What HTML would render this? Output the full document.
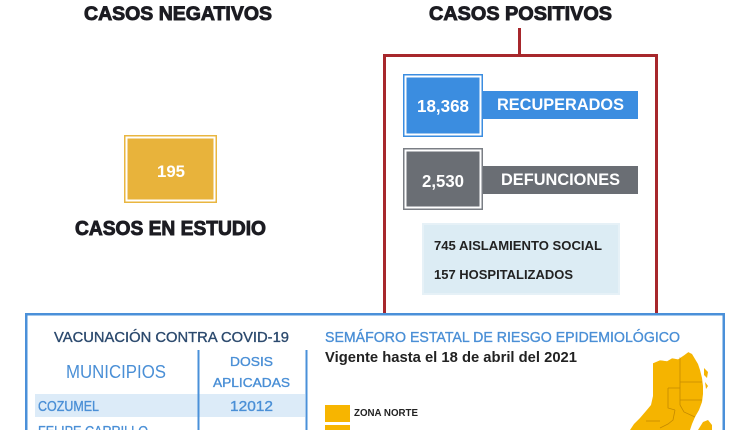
<!DOCTYPE html>
<html>
<head>
<meta charset="utf-8">
<style>
  html,body{margin:0;padding:0;background:#fff;}
  body{width:750px;height:430px;overflow:hidden;}
  svg{display:block;}
  .h{font-family:"Liberation Sans",Arial,sans-serif;font-weight:bold;fill:#1c1c22;stroke:#1c1c22;stroke-width:0.9px;}
  .w{font-family:"Liberation Sans",Arial,sans-serif;font-weight:bold;fill:#fff;}
  .d{font-family:"Liberation Sans",Arial,sans-serif;font-weight:bold;fill:#222;}
  .n{font-family:"Liberation Sans","DejaVu Sans",sans-serif;}
  .sb{stroke-width:0.35px;}
</style>
</head>
<body>
<svg width="750" height="430" viewBox="0 0 750 430" xmlns="http://www.w3.org/2000/svg">
  <rect x="0" y="0" width="750" height="430" fill="#fff"/>

  <!-- headings -->
  <text class="h" x="84" y="20" font-size="19.5" textLength="188" lengthAdjust="spacingAndGlyphs">CASOS NEGATIVOS</text>
  <text class="h" x="429" y="20" font-size="19.5" textLength="183" lengthAdjust="spacingAndGlyphs">CASOS POSITIVOS</text>

  <!-- yellow box -->
  <rect x="124.75" y="135.75" width="91.5" height="66.5" fill="#fff" stroke="#e9b640" stroke-width="1.5"/>
  <rect x="127.5" y="138.5" width="86" height="61" fill="#e8b33b"/>
  <text class="w" x="157" y="177" font-size="17" textLength="28" lengthAdjust="spacingAndGlyphs">195</text>

  <text class="h" x="75" y="235" font-size="20" textLength="191" lengthAdjust="spacingAndGlyphs">CASOS EN ESTUDIO</text>

  <!-- red bracket -->
  <line x1="519.5" y1="28" x2="519.5" y2="56" stroke="#a7272c" stroke-width="3"/>
  <path d="M384.5 320 V55.5 H656.5 V320" fill="none" stroke="#a7272c" stroke-width="3"/>

  <!-- recuperados -->
  <rect x="483" y="91" width="155" height="28" fill="#3b8de0"/>
  <rect x="403.75" y="74.75" width="78.5" height="61.5" fill="#fff" stroke="#3b8de0" stroke-width="1.5"/>
  <rect x="406.5" y="77.5" width="73" height="56" fill="#3b8de0"/>
  <text class="w" x="417" y="112" font-size="17.5" textLength="52" lengthAdjust="spacingAndGlyphs">18,368</text>
  <text class="w" x="497" y="110" font-size="16.5" textLength="127" lengthAdjust="spacingAndGlyphs">RECUPERADOS</text>

  <!-- defunciones -->
  <rect x="483" y="166" width="155" height="28" fill="#6a6e74"/>
  <rect x="403.75" y="148.75" width="78.5" height="60.5" fill="#fff" stroke="#7a7e84" stroke-width="1.5"/>
  <rect x="406.5" y="151.5" width="73" height="55" fill="#6a6e74"/>
  <text class="w" x="422" y="187" font-size="17.5" textLength="42" lengthAdjust="spacingAndGlyphs">2,530</text>
  <text class="w" x="501" y="185" font-size="16.5" textLength="119" lengthAdjust="spacingAndGlyphs">DEFUNCIONES</text>

  <!-- light blue info box -->
  <rect x="423" y="224" width="196" height="70" fill="#dcecf4" stroke="#e6f1f7" stroke-width="2"/>
  <text class="d" x="434" y="250" font-size="12.5" textLength="168" lengthAdjust="spacingAndGlyphs">745  AISLAMIENTO SOCIAL</text>
  <text class="d" x="434" y="279" font-size="12.5" textLength="139" lengthAdjust="spacingAndGlyphs">157  HOSPITALIZADOS</text>

  <!-- bottom frame -->
  <rect x="26.25" y="314.25" width="697.5" height="130" fill="#fff" stroke="#4a90d9" stroke-width="2.5"/>

  <text class="n sb" x="54" y="342" font-size="15" fill="#2c4a6e" stroke="#2c4a6e" textLength="235" lengthAdjust="spacingAndGlyphs">VACUNACIÓN CONTRA COVID-19</text>
  <text class="n" x="66" y="378" font-size="18" fill="#4a8fd6" textLength="100" lengthAdjust="spacingAndGlyphs">MUNICIPIOS</text>
  <text class="n sb" x="230" y="366" font-size="12.5" fill="#4a8fd6" stroke="#4a8fd6" textLength="43" lengthAdjust="spacingAndGlyphs">DOSIS</text>
  <text class="n sb" x="213" y="387" font-size="12.5" fill="#4a8fd6" stroke="#4a8fd6" textLength="77" lengthAdjust="spacingAndGlyphs">APLICADAS</text>

  <rect x="35" y="394" width="270" height="23" fill="#dcebf8"/>
  <line x1="198.5" y1="350" x2="198.5" y2="430" stroke="#4a90d9" stroke-width="2"/>
  <line x1="306.5" y1="350" x2="306.5" y2="430" stroke="#4a90d9" stroke-width="2"/>
  <text class="n sb" x="38" y="411" font-size="14.5" fill="#4a8fd6" stroke="#4a8fd6" textLength="61" lengthAdjust="spacingAndGlyphs">COZUMEL</text>
  <text class="n sb" x="230" y="411" font-size="14.5" fill="#4a8fd6" stroke="#4a8fd6" textLength="43" lengthAdjust="spacingAndGlyphs">12012</text>
  <text class="n sb" x="38" y="436" font-size="14.5" fill="#4a8fd6" stroke="#4a8fd6" textLength="110" lengthAdjust="spacingAndGlyphs">FELIPE CARRILLO</text>

  <text class="n sb" x="325" y="342" font-size="15" fill="#4a8fd6" stroke="#4a8fd6" textLength="355" lengthAdjust="spacingAndGlyphs">SEMÁFORO ESTATAL DE RIESGO EPIDEMIOLÓGICO</text>
  <text class="n" x="325" y="362" font-size="15" fill="#222" font-weight="bold" textLength="252" lengthAdjust="spacingAndGlyphs">Vigente hasta el 18 de abril del 2021</text>

  <rect x="325" y="405" width="25" height="17" fill="#f7b500"/>
  <text class="n" x="354" y="416" font-size="10.5" fill="#222" font-weight="bold" textLength="64" lengthAdjust="spacingAndGlyphs">ZONA NORTE</text>
  <rect x="325" y="425" width="25" height="10" fill="#f7b500"/>

  <!-- map -->
  <g>
    <path d="M653 363 L660 360 L667 361 L672 358 L678 359 L684 355 L688 352 L692 354 L695 359 L698 364 L700 370 L702 378 L703 386 L703 394 L702 402 L699 410 L695 417 L692 424 L690 430 L630 430 L634 424 L640 418 L646 411 L651 405 L653 396 L653 380 Z" fill="#f5b400"/>
    <path d="M704 368 L708 372 L707 378 L704 375 Z" fill="#f5b400"/>
    <path d="M705 382 L708 386 L706 389 Z" fill="#f5b400"/>
    <path d="M698 430 L703 422 L708 420 L712 425 L712 430 Z" fill="#f5b400"/>
    <g fill="none" stroke="#c48a00" stroke-width="0.8">
      <path d="M680 357 V388"/>
      <path d="M680 382 H702"/>
      <path d="M680 400 H702"/>
      <path d="M668 388 H680 V405"/>
      <path d="M668 388 V408 L675 410"/>
      <path d="M675 410 L673 420 L668 424 L660 428"/>
      <path d="M680 405 L684 412 L695 417"/>
      <path d="M646 421 H660"/>
    </g>
    <path d="M653 363 L660 360 L667 361 L672 358 L678 359 L684 355 L688 352" fill="none" stroke="#fff" stroke-width="0.6"/>
  </g>
</svg>
</body>
</html>
